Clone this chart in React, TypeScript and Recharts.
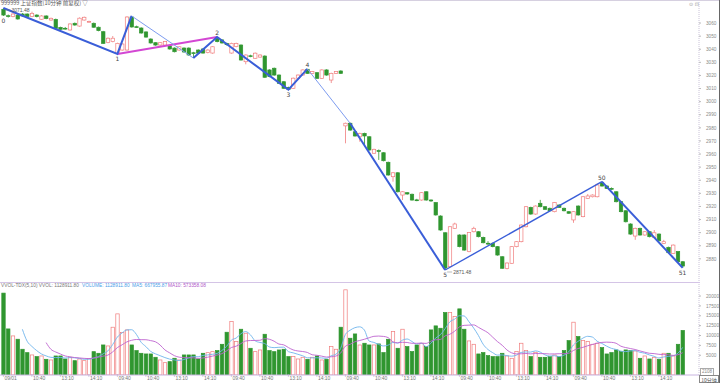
import React from 'react';
import { ComposedChart, Bar, Line, XAxis, YAxis, ReferenceDot } from 'recharts';

// ---------- data ----------
const timeSlots = ['09:40','09:50','10:00','10:10','10:20','10:30','10:40','10:50','11:00','11:10','11:20','11:30','13:10','13:20','13:30','13:40','13:50','14:00','14:10','14:20','14:30','14:40','14:50','15:00'];
const dayCount = 6;
const tickSlotIdx = [0, 6, 12, 18];
const firstDateLabel = '09/01';

const opens = [
  3070.5,3065.6,3064.9,3066.1,3066.9,3066.9,3064.9,3066.1,3062.9,3065.4,3062.3,3062.8,
  3056.7,3056.0,3054.7,3059.8,3057.7,3062.3,3061.0,3059.8,3056.8,3053.4,3045.1,3045.8,
  3036.9,3039.4,3039.4,3064.6,3057.2,3056.2,3053.2,3047.8,3045.0,3043.2,3043.2,3042.5,
  3040.9,3039.4,3040.9,3040.9,3037.3,3039.4,3040.2,3037.4,3037.1,3048.4,3047.1,3044.5,
  3037.1,3042.0,3043.2,3030.5,3035.0,3033.1,3034.0,3034.8,3024.2,3025.5,3020.3,3015.2,
  3010.9,3010.2,3017.9,3020.3,3024.7,3021.6,3022.1,3017.8,3024.2,3016.5,3021.6,3023.4,
  2981.5,2983.5,2977.0,2973.2,2975.8,2973.2,2960.6,2962.6,2961.0,2953.7,2942.7,2945.7,
  2928.7,2930.5,2929.3,2925.0,2924.9,2931.2,2924.9,2922.9,2912.7,2899.9,2874.0,2903.3,
  2898.2,2898.2,2885.5,2900.7,2900.7,2896.4,2891.9,2891.9,2889.3,2881.6,2872.6,2876.6,
  2889.3,2893.1,2904.5,2919.3,2914.2,2922.4,2919.8,2918.6,2916.0,2921.1,2918.6,2916.0,
  2909.7,2920.3,2912.2,2926.2,2927.4,2927.4,2938.1,2935.6,2933.8,2931.2,2923.6,2916.7,
  2906.6,2897.4,2903.3,2898.2,2900.7,2896.4,2898.9,2891.8,2888.8,2884.2,2885.5,2877.8,
];
const highs = [
  3071.48,3066.5,3067.5,3066.8,3067.6,3067.3,3068.7,3066.6,3066.0,3065.9,3064.2,3063.4,
  3057.2,3057.0,3059.8,3060.4,3064.3,3064.9,3061.8,3060.4,3057.3,3054.0,3049.0,3050.1,
  3045.0,3044.5,3065.2,3065.4,3058.0,3056.7,3053.7,3048.3,3045.5,3045.5,3046.3,3043.0,
  3041.4,3042.4,3041.4,3041.4,3038.0,3039.9,3040.7,3039.9,3042.4,3049.3,3047.6,3045.0,
  3045.0,3045.0,3043.7,3036.1,3035.8,3037.5,3036.1,3035.3,3024.7,3026.0,3020.8,3015.7,
  3011.4,3018.4,3020.8,3024.7,3025.0,3023.4,3022.6,3024.7,3024.7,3022.1,3023.4,3023.9,
  2984.0,2984.0,2977.5,2976.3,2976.3,2973.7,2964.1,2963.5,2961.5,2954.2,2946.2,2946.2,
  2931.7,2931.0,2929.8,2925.8,2931.0,2931.7,2925.4,2923.4,2913.2,2900.4,2905.0,2907.6,
  2898.7,2898.7,2900.5,2904.5,2901.2,2896.9,2893.5,2892.4,2889.8,2882.1,2877.3,2889.8,
  2893.6,2906.3,2920.3,2919.8,2920.8,2925.0,2920.3,2919.1,2923.4,2921.6,2919.1,2916.5,
  2916.5,2920.8,2927.9,2929.5,2929.2,2937.5,2938.9,2936.1,2934.5,2931.7,2924.1,2917.2,
  2907.1,2903.8,2903.8,2901.2,2901.2,2902.0,2899.4,2894.5,2889.3,2891.0,2886.0,2878.3,
];
const lows = [
  3065.4,3064.2,3064.4,3062.6,3064.9,3064.3,3064.5,3064.3,3062.4,3062.9,3061.8,3055.3,
  3054.6,3054.9,3054.2,3058.0,3057.2,3061.9,3060.5,3056.3,3053.7,3044.0,3044.6,3045.3,
  3036.4,3038.9,3039.0,3056.5,3056.2,3051.9,3048.8,3044.3,3042.7,3042.7,3042.7,3039.7,
  3037.6,3038.9,3037.4,3035.1,3033.3,3036.6,3036.6,3036.9,3036.6,3045.3,3044.3,3042.8,
  3036.6,3041.5,3031.3,3028.5,3033.9,3032.6,3033.5,3018.1,3018.6,3019.8,3013.5,3009.7,
  3009.2,3009.7,3017.4,3019.8,3021.1,3021.1,3017.3,3017.3,3019.8,3014.2,3021.1,3021.1,
  2968.2,2977.8,2973.3,2969.4,2966.9,2962.6,2960.1,2955.5,2954.4,2943.5,2938.9,2930.7,
  2924.9,2929.0,2924.4,2924.0,2924.4,2924.4,2923.5,2913.0,2901.5,2871.48,2873.5,2902.8,
  2888.8,2886.2,2885.0,2900.2,2896.4,2891.8,2890.5,2888.8,2882.4,2872.3,2872.0,2876.1,
  2888.8,2892.6,2904.0,2913.7,2913.7,2919.3,2917.3,2916.2,2915.5,2918.8,2916.2,2914.3,
  2907.5,2913.0,2911.7,2925.7,2926.9,2926.9,2935.1,2933.3,2932.6,2923.1,2915.5,2907.8,
  2898.4,2894.5,2897.7,2897.7,2896.4,2895.9,2893.3,2891.3,2884.2,2883.7,2877.3,2873.2,
];
const closes = [
  3066.1,3065.4,3066.9,3063.1,3065.4,3064.9,3067.4,3064.9,3065.4,3063.4,3063.6,3055.9,
  3055.2,3055.8,3059.3,3058.5,3063.7,3064.4,3061.2,3056.8,3054.2,3044.5,3048.4,3048.4,
  3044.5,3044.0,3064.6,3057.0,3057.0,3052.4,3049.3,3044.8,3043.2,3045.0,3045.8,3040.2,
  3038.1,3041.9,3037.9,3035.6,3037.1,3037.1,3037.1,3039.4,3041.9,3045.8,3044.8,3043.5,
  3044.5,3044.5,3031.8,3035.6,3034.6,3037.0,3035.6,3018.6,3019.1,3020.3,3014.0,3010.2,
  3009.4,3017.9,3020.3,3024.2,3021.6,3022.9,3017.8,3024.2,3020.3,3021.6,3022.9,3021.6,
  2983.5,2978.3,2973.8,2975.8,2973.8,2963.1,2963.6,2962.4,2954.9,2944.0,2945.7,2931.2,
  2931.2,2929.5,2924.9,2924.8,2930.5,2924.9,2924.2,2913.5,2902.0,2873.0,2904.5,2906.6,
  2889.3,2886.7,2900.0,2903.3,2896.9,2892.3,2891.6,2889.3,2882.9,2872.8,2876.8,2889.3,
  2893.1,2905.8,2919.8,2914.2,2920.3,2919.8,2917.8,2916.7,2922.9,2919.3,2916.7,2914.8,
  2916.0,2913.5,2927.4,2928.0,2928.7,2936.4,2935.6,2933.8,2933.1,2923.6,2916.0,2908.3,
  2898.9,2903.3,2898.2,2900.7,2896.9,2899.9,2893.8,2893.1,2884.7,2890.5,2877.8,2874.5,
];
// volume (hundreds)
const volumes = [
  20740,11670,9900,9060,6520,5660,5080,4650,4820,3980,3810,4820,
  4820,4060,4490,3630,4060,3630,4140,5910,5500,7610,7360,12100,
  15480,10740,11420,7610,6170,5500,5330,5330,4490,3810,3120,3380,
  4240,3810,5080,5080,5080,4060,5500,5660,5910,6170,7780,10830,
  13530,8460,11590,10580,6770,5910,6340,10320,6170,5910,6340,6520,
  4650,4650,4060,4490,3980,4490,4820,3810,3980,7190,6520,12100,
  21570,9310,10400,7600,8040,7610,7610,7870,5670,9050,11000,6770,
  11590,7190,5920,7610,8040,7190,11420,12440,11840,15820,15820,14800,
  16750,11590,8630,7780,5330,5670,4910,4650,4650,5500,4820,4230,
  5920,8040,6170,4650,5750,4480,4480,4650,5080,4650,6170,8710,
  13370,9730,8710,8460,7780,8040,6940,5330,5670,6350,5920,6350,
  6170,6090,4230,4820,4060,4480,3980,5500,5500,4820,7780,11289,
];

// wave (zigzag) segments: [barIndex, price]
const waveThickA = [[0, 3071.48], [24, 3036.4], [27, 3065.4]];
const waveThinB = [[27, 3065.4], [40, 3033.3]];
const waveThickC = [[40, 3033.3], [45, 3049.3], [60, 3009.2], [64, 3025.0]];
const waveThinD = [[64, 3025.0], [73, 2983.5]];
const waveThickE = [[73, 2983.5], [93, 2871.48]];
const waveMidF = [[93, 2871.48], [126, 2938.9]];
const waveThickG = [[126, 2938.9], [143, 2873.2]];
const waveMagenta = [[24, 3036.4], [45, 3049.3]];

const pivotLabelsBelow = [[0, 3071.48, '0'], [24, 3036.4, '1'], [60, 3009.2, '3'], [93, 2871.48, '5'], [143, 2873.2, '51']];
const pivotLabelsAbove = [[45, 3049.3, '2'], [64, 3025.0, '4'], [126, 2938.9, '50']];
const extremeLabels = [[0, 3071.48, '3071.48'], [93, 2871.48, '2871.48']];

const priceTicks = [2880, 2890, 2900, 2910, 2920, 2930, 2940, 2950, 2960, 2970, 2980, 2990, 3000, 3010, 3020, 3030, 3040, 3050, 3060];
const volTicks = [5000, 7500, 10000, 12500, 15000, 17500, 20000];

const titleText = '999999 上证指数(10分钟 前复权) ▽';
const volLegend = [
  ['VVOL-TDX(5,10)  VVOL: 1128911.80', '#777'],
  ['VOLUME: 1128911.80', '#4a9ee8'],
  ['MA5: 667955.87', '#4a9ee8'],
  ['MA10: 573358.08', '#b055c8'],
];

// ---------- build table ----------
const segVal = (seg: number[][], i: number) => {
  const f = seg.find((p) => p[0] === i);
  return f ? f[1] : null;
};
const avg = (arr: number[], i: number, n: number) => {
  if (i < n - 1) return null;
  let s = 0;
  for (let k = i - n + 1; k <= i; k++) s += arr[k];
  return s / n;
};

const data = opens.map((o, i) => ({
  i,
  o,
  h: highs[i],
  l: lows[i],
  c: closes[i],
  hl: [lows[i], highs[i]],
  v: volumes[i],
  up: closes[i] >= o,
  ma5: avg(volumes, i, 5),
  ma10: avg(volumes, i, 10),
  wA: segVal(waveThickA, i),
  wB: segVal(waveThinB, i),
  wC: segVal(waveThickC, i),
  wD: segVal(waveThinD, i),
  wE: segVal(waveThickE, i),
  wF: segVal(waveMidF, i),
  wG: segVal(waveThickG, i),
  wM: segVal(waveMagenta, i),
}));

const xTicks: number[] = [];
for (let d = 0; d < dayCount; d++) tickSlotIdx.forEach((s) => xTicks.push(d * 24 + s));

// ---------- styling ----------
const UP = '#f07c7c';
const DOWN = '#2f962f';
const BLUE = '#3a5ed8';
const LIGHTBLUE = '#7d9cf0';
const MAGENTA = '#d347d3';
const BODY_W = 3.4;
const NUMFONT = 'Liberation Sans';

const Candle = (props: any) => {
  const { x, y, width, height, payload } = props;
  if (payload == null) return null;
  const { o, h, l, c, up } = payload;
  const top = Math.min(y, y + height);
  const hh = Math.abs(height);
  const k = h - l > 0 ? hh / (h - l) : 0;
  const yOf = (v: number) => top + (h - v) * k;
  const cx = x + width / 2;
  const bTop = yOf(Math.max(o, c));
  const bBot = yOf(Math.min(o, c));
  const bh = Math.max(bBot - bTop, 0.8);
  const col = up ? UP : DOWN;
  return (
    <g>
      <line x1={cx} x2={cx} y1={yOf(h)} y2={bTop} stroke={col} strokeWidth={0.8} />
      <line x1={cx} x2={cx} y1={bTop + bh} y2={yOf(l)} stroke={col} strokeWidth={0.8} />
      <rect x={cx - BODY_W / 2} y={bTop} width={BODY_W} height={bh} fill={up ? '#fff' : col} stroke={col} strokeWidth={0.7} />
    </g>
  );
};

const VolBar = (props: any) => {
  const { x, y, width, height, payload } = props;
  if (payload == null) return null;
  const cx = x + width / 2;
  const col = payload.up ? UP : DOWN;
  return (
    <rect x={cx - BODY_W / 2} y={y} width={BODY_W} height={Math.max(height, 0)} fill={payload.up ? '#fff' : col} stroke={col} strokeWidth={0.7} />
  );
};

const RightTick = (props: any) => {
  const { y, payload } = props;
  return (
    <text x={706} y={y} dy={1.7} fontSize={4.7} fill="#8a8a8a" textAnchor="start" fontFamily={NUMFONT}>
      {payload.value}
    </text>
  );
};

const BottomTick = (props: any) => {
  const { x, y, payload } = props;
  const v = payload.value;
  const label = v === 0 ? firstDateLabel : timeSlots[v % 24];
  return (
    <g>
      <line x1={x} x2={x} y1={y - 2} y2={y + 1} stroke="#b9a8d0" strokeWidth={0.6} />
      <text x={x + 1} y={y} dy={4.4} fontSize={5} fill="#777" textAnchor="start" fontFamily={NUMFONT}>
        {label}
      </text>
    </g>
  );
};

const ExtremeLabel = (text: string) => (props: any) => {
  const vb = props.viewBox || {};
  const x = vb.x ?? 0;
  const y = vb.y ?? 0;
  return (
    <g>
      <line x1={x + 2} x2={x + 7} y1={y + 2} y2={y + 2} stroke="#777" strokeWidth={0.5} />
      <text x={x + 8} y={y + 2} dy={1.8} fontSize={5} fill="#555" fontFamily={NUMFONT}>{text}</text>
    </g>
  );
};

const PRICE_HI = 3077.59;
const PRICE_LO = 2862.32;

const lineProps = { dot: false, connectNulls: true, isAnimationActive: false, activeDot: false, type: 'linear' as const };

export default function App() {
  return (
    <div style={{ position: 'absolute', left: 0, top: 0, width: 720, height: 383, background: '#fff', overflow: 'hidden', fontFamily: '"Noto Sans CJK SC", "DejaVu Sans", sans-serif' }}>
      <div style={{ position: 'absolute', left: 0, top: 0 }}>
        <ComposedChart width={720} height={282} data={data} margin={{ top: 0, right: 0, bottom: 0, left: 0 }} barCategoryGap={0}>
          <XAxis dataKey="i" type="category" hide padding={{ left: 1, right: 14 }} />
          <YAxis
            orientation="right"
            width={21}
            type="number"
            domain={[PRICE_LO, PRICE_HI]}
            allowDataOverflow
            ticks={priceTicks}
            interval={0}
            tick={<RightTick />}
            tickSize={2}
            tickMargin={5}
            axisLine={{ stroke: '#c9c2d8', strokeDasharray: '1 1' }}
            tickLine={{ stroke: '#bbb' }}
          />
          <Bar dataKey="hl" shape={<Candle />} isAnimationActive={false} />
          <Line dataKey="wM" stroke={MAGENTA} strokeWidth={2} {...lineProps} />
          <Line dataKey="wA" stroke={BLUE} strokeWidth={2} {...lineProps} />
          <Line dataKey="wB" stroke={LIGHTBLUE} strokeWidth={1} {...lineProps} />
          <Line dataKey="wC" stroke={BLUE} strokeWidth={2} {...lineProps} />
          <Line dataKey="wD" stroke={LIGHTBLUE} strokeWidth={1} {...lineProps} />
          <Line dataKey="wE" stroke={BLUE} strokeWidth={2} {...lineProps} />
          <Line dataKey="wF" stroke={BLUE} strokeWidth={1.4} {...lineProps} />
          <Line dataKey="wG" stroke={BLUE} strokeWidth={2} {...lineProps} />
          {pivotLabelsBelow.map((p) => (
            <ReferenceDot key={'b' + p[2]} x={p[0] as number} y={p[1] as number} r={0} stroke="none"
              label={{ value: p[2], position: 'bottom', offset: p[2] === '0' ? 11 : 3, fontSize: 6, fill: '#444', fontFamily: 'DejaVu Sans' }} />
          ))}
          {pivotLabelsAbove.map((p) => (
            <ReferenceDot key={'a' + p[2]} x={p[0] as number} y={p[1] as number} r={0} stroke="none"
              label={{ value: p[2], position: 'top', offset: 2, fontSize: 6, fill: '#444', fontFamily: 'DejaVu Sans' }} />
          ))}
          {extremeLabels.map((p) => (
            <ReferenceDot key={'e' + p[2]} x={p[0] as number} y={p[1] as number} r={0} stroke="none"
              label={ExtremeLabel(p[2] as string)} />
          ))}
        </ComposedChart>
      </div>
      <div style={{ position: 'absolute', left: 0, top: 282 }}>
        <ComposedChart width={720} height={101} data={data} margin={{ top: 0, right: 0, bottom: 0, left: 0 }} barCategoryGap={0}>
          <XAxis
            dataKey="i"
            type="category"
            padding={{ left: 1, right: 14 }}
            ticks={xTicks}
            interval={0}
            height={8}
            tick={<BottomTick />}
            tickSize={0}
            tickMargin={1}
            axisLine={{ stroke: '#c8b4e0' }}
            tickLine={false}
          />
          <YAxis
            orientation="right"
            width={21}
            type="number"
            domain={[0, 23553]}
            allowDataOverflow
            ticks={volTicks}
            interval={0}
            tick={<RightTick />}
            tickSize={2}
            tickMargin={5}
            axisLine={{ stroke: '#c9c2d8', strokeDasharray: '1 1' }}
            tickLine={{ stroke: '#bbb' }}
          />
          <Bar dataKey="v" shape={<VolBar />} isAnimationActive={false} />
          <Line dataKey="ma5" stroke="#6fb4ec" strokeWidth={0.9} {...lineProps} type="monotone" />
          <Line dataKey="ma10" stroke="#bd63cf" strokeWidth={0.9} {...lineProps} type="monotone" />
        </ComposedChart>
      </div>
      {/* panel borders */}
      <div style={{ position: 'absolute', left: 0, top: 0, width: 720, height: 1, background: '#d6d0e0' }} />
      <div style={{ position: 'absolute', left: 0, top: 282, width: 700, height: 1, background: '#d4c4e6' }} />
      <div style={{ position: 'absolute', left: 719, top: 0, width: 1, height: 383, background: '#666' }} />
      {/* title */}
      <div style={{ position: 'absolute', left: 1, top: 0, fontSize: 5.5, lineHeight: '6px', color: '#555', whiteSpace: 'nowrap' }}>{titleText}</div>
      <div style={{ position: 'absolute', left: 689, top: 1, fontSize: 5, lineHeight: '7px', color: '#999', whiteSpace: 'nowrap', fontFamily: 'DejaVu Sans' }}>⊙ ⊡</div>
      {/* volume legend */}
      {volLegend.map((t, k) => (
        <div key={k} style={{ position: 'absolute', left: [1, 82, 132, 168][k], top: 283, fontSize: 4.8, lineHeight: '6px', color: t[1], whiteSpace: 'nowrap', fontFamily: NUMFONT }}>{t[0]}</div>
      ))}
      {/* bottom-right boxes */}
      <div style={{ position: 'absolute', left: 700, top: 368, fontSize: 4.5, lineHeight: '6px', color: '#888', border: '0.5px solid #aaa', padding: '0 1px', fontFamily: NUMFONT }}>2108</div>
      <div style={{ position: 'absolute', left: 699, top: 375, width: 20, height: 8, fontSize: 5, lineHeight: '8px', color: '#555', border: '0.5px solid #888', boxSizing: 'border-box', textAlign: 'center', whiteSpace: 'nowrap' }}>10分钟</div>
    </div>
  );
}
